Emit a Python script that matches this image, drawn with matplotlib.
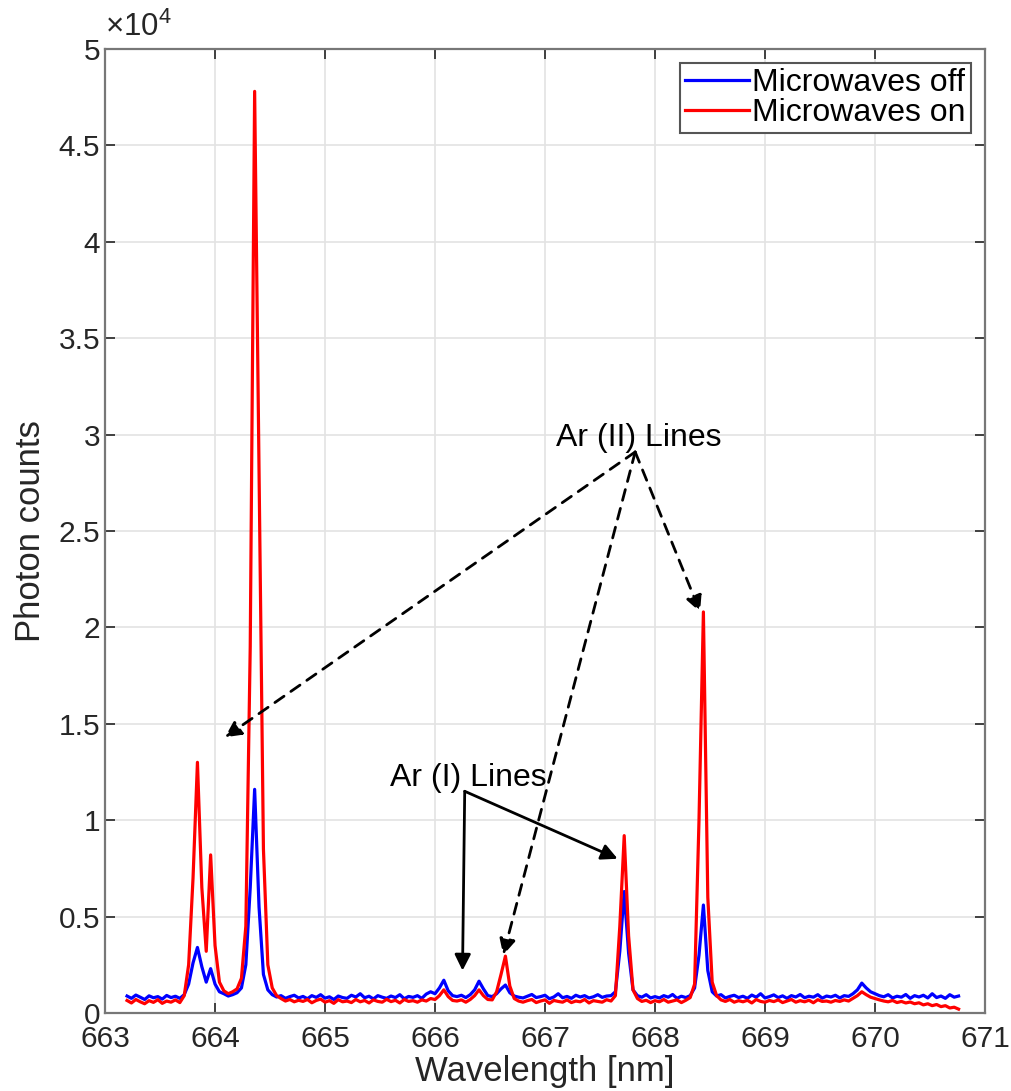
import numpy as np
import matplotlib
matplotlib.use('Agg')
from matplotlib import pyplot as plt

plt.rcParams['font.family'] = ['Liberation Sans', 'DejaVu Sans']
plt.rcParams['mathtext.fontset'] = 'custom'
plt.rcParams['mathtext.rm'] = 'Liberation Sans'
plt.rcParams['mathtext.it'] = 'Liberation Sans'

# wavelength samples [nm], 10 per row
wavelength = [
    663.20, 663.24, 663.28, 663.32, 663.36, 663.40, 663.44, 663.48, 663.52, 663.56,
    663.60, 663.64, 663.68, 663.72, 663.76, 663.80, 663.84, 663.88, 663.92, 663.96,
    664.00, 664.04, 664.08, 664.12, 664.16, 664.20, 664.24, 664.28, 664.32, 664.36,
    664.40, 664.44, 664.48, 664.52, 664.56, 664.60, 664.64, 664.68, 664.72, 664.76,
    664.80, 664.84, 664.88, 664.92, 664.96, 665.00, 665.04, 665.08, 665.12, 665.16,
    665.20, 665.24, 665.28, 665.32, 665.36, 665.40, 665.44, 665.48, 665.52, 665.56,
    665.60, 665.64, 665.68, 665.72, 665.76, 665.80, 665.84, 665.88, 665.92, 665.96,
    666.00, 666.04, 666.08, 666.12, 666.16, 666.20, 666.24, 666.28, 666.32, 666.36,
    666.40, 666.44, 666.48, 666.52, 666.56, 666.60, 666.64, 666.68, 666.72, 666.76,
    666.80, 666.84, 666.88, 666.92, 666.96, 667.00, 667.04, 667.08, 667.12, 667.16,
    667.20, 667.24, 667.28, 667.32, 667.36, 667.40, 667.44, 667.48, 667.52, 667.56,
    667.60, 667.64, 667.68, 667.72, 667.76, 667.80, 667.84, 667.88, 667.92, 667.96,
    668.00, 668.04, 668.08, 668.12, 668.16, 668.20, 668.24, 668.28, 668.32, 668.36,
    668.40, 668.44, 668.48, 668.52, 668.56, 668.60, 668.64, 668.68, 668.72, 668.76,
    668.80, 668.84, 668.88, 668.92, 668.96, 669.00, 669.04, 669.08, 669.12, 669.16,
    669.20, 669.24, 669.28, 669.32, 669.36, 669.40, 669.44, 669.48, 669.52, 669.56,
    669.60, 669.64, 669.68, 669.72, 669.76, 669.80, 669.84, 669.88, 669.92, 669.96,
    670.00, 670.04, 670.08, 670.12, 670.16, 670.20, 670.24, 670.28, 670.32, 670.36,
    670.40, 670.44, 670.48, 670.52, 670.56, 670.60, 670.64, 670.68, 670.72, 670.76,
]

counts_off = [
    880, 760, 930, 820, 700, 890, 790, 850, 720, 910,
    800, 870, 760, 950, 1500, 2600, 3400, 2400, 1600, 2300,
    1500, 1100, 1000, 880, 950, 1050, 1300, 2500, 6500, 11600,
    5500, 2000, 1200, 950, 830, 900, 760, 850, 920, 780,
    860, 740, 900, 810, 950, 770, 840, 700, 880, 800,
    760, 920, 830, 1000, 790, 870, 730, 900, 820, 760,
    880, 800, 950, 740, 860, 810, 900, 760, 980, 1100,
    1000, 1300, 1700, 1150, 900, 850, 920, 800, 950, 1200,
    1650, 1250, 900, 850, 1000, 1250, 1450, 1050, 880, 820,
    780, 870, 960, 800, 850, 920, 740, 830, 1000, 790,
    860, 760, 920, 830, 900, 780, 840, 950, 810, 880,
    900, 1100, 3200, 6300, 3100, 1200, 900, 820, 950, 780,
    850, 780, 900, 820, 960, 760, 870, 800, 900, 1300,
    3000, 5600, 2200, 1100, 880, 950, 780, 860, 920, 800,
    870, 760, 930, 820, 1000, 780, 850, 940, 800, 890,
    760, 900, 830, 960, 790, 870, 820, 950, 770, 880,
    830, 920, 780, 900, 860, 1000, 1200, 1550, 1300, 1100,
    1000, 900, 840, 950, 780, 870, 820, 960, 760, 900,
    830, 920, 780, 1000, 800, 880, 760, 950, 820, 880,
]

counts_on = [
    650, 520, 700, 580, 480, 640, 550, 690, 500, 620,
    560, 680, 540, 900, 2500, 7000, 13000, 6500, 3200, 8200,
    3500, 1600, 1150, 1000, 1100, 1250, 1800, 4500, 19000, 47800,
    28000, 8500, 2500, 1300, 900, 750, 620, 700, 580, 660,
    600, 700, 530, 650, 720, 560, 640, 500, 690, 580,
    620, 540, 700, 580, 650, 520, 680, 600, 560, 710,
    590, 660, 520, 700, 600, 640, 560, 680, 620, 750,
    700, 900, 1200, 850, 650, 620, 680, 560, 700, 900,
    1200, 900, 700, 680, 1100, 2000, 2950, 1400, 750, 620,
    560, 640, 700, 540, 620, 680, 500, 650, 600, 560,
    680, 540, 620, 580, 700, 520, 640, 600, 560, 690,
    620, 900, 4500, 9200, 4000, 1200, 750, 600, 660, 540,
    640, 580, 700, 560, 620, 680, 540, 660, 800, 1500,
    10000, 20800, 6000, 1600, 900, 680, 600, 700, 560, 640,
    580, 660, 520, 700, 600, 560, 650, 590, 680, 540,
    620, 700, 560, 640, 580, 660, 530, 690, 600, 620,
    560, 650, 600, 680, 620, 760, 900, 1100, 950, 820,
    750, 680, 620, 580, 650, 540, 600, 520, 570, 480,
    530, 420, 480, 380, 440, 330, 380, 260, 300, 200,
]

series_labels = ['Microwaves off', 'Microwaves on']
x_ticks = [663, 664, 665, 666, 667, 668, 669, 670, 671]
y_ticks = [0, 5000, 10000, 15000, 20000, 25000, 30000, 35000, 40000, 45000, 50000]

# annotation anchors (wavelength, counts)
ar2_text = (667.85, 29800)
ar2_origin = (667.82, 29100)
ar2_targets = [(664.09, 14300), (666.62, 3000), (668.41, 20800)]
ar1_text = (666.30, 12200)
ar1_origin = (666.27, 11500)
ar1_targets = [(666.25, 2200), (667.66, 8000)]

fig = plt.figure(figsize=(10.12, 10.91), dpi=100)
ax = fig.add_axes([0.1038, 0.0715, 0.8695, 0.8836])

ax.plot(wavelength, counts_off, color='#0000ff', lw=2.3, label=series_labels[0])
ax.plot(wavelength, counts_on, color='#ff0000', lw=2.3, label=series_labels[1])

ax.set_xlim(663, 671)
ax.set_ylim(0, 50000)
ax.set_xticks(x_ticks)
ax.set_yticks(y_ticks)
ax.set_yticklabels(['%g' % (v / 1e4) for v in y_ticks])
ax.tick_params(direction='in', length=7, width=1.3, labelsize=21.5,
               top=True, right=True, color='#333333', labelcolor='#262626')
ax.tick_params(axis='x', pad=9)
ax.grid(True, color='#e3e3e3', lw=1.2)
ax.set_axisbelow(True)
for s in ax.spines.values():
    s.set_color('#777777')
    s.set_linewidth(1.6)

ax.set_xlabel('Wavelength [nm]', fontsize=25, color='#262626', labelpad=1)
ax.set_ylabel('Photon counts', fontsize=25, color='#262626', labelpad=8)
ax.text(0.0, 1.006, r'$\times10^{4}$', transform=ax.transAxes, fontsize=22.5,
        color='#262626', ha='left', va='bottom')

leg = ax.legend(loc='upper right', fontsize=23, fancybox=False, framealpha=1,
                edgecolor='#555555', borderpad=0.15, labelspacing=0.0,
                handlelength=2.0, handletextpad=0.1, borderaxespad=0.45)
leg.get_frame().set_linewidth(1.5)

ax.text(*ar2_text, 'Ar (II) Lines', fontsize=23, ha='center', va='center')
for t in ar2_targets:
    ax.annotate('', xy=t, xytext=ar2_origin,
                arrowprops=dict(arrowstyle='-|>', color='black', lw=2.0,
                                linestyle=(0, (4, 3)), mutation_scale=24,
                                shrinkA=0, shrinkB=0))

ax.text(*ar1_text, 'Ar (I) Lines', fontsize=23, ha='center', va='center')
for t in ar1_targets:
    ax.annotate('', xy=t, xytext=ar1_origin,
                arrowprops=dict(arrowstyle='-|>', color='black', lw=2.0,
                                mutation_scale=24, shrinkA=0, shrinkB=0))

fig.savefig('out.png', dpi=100)
